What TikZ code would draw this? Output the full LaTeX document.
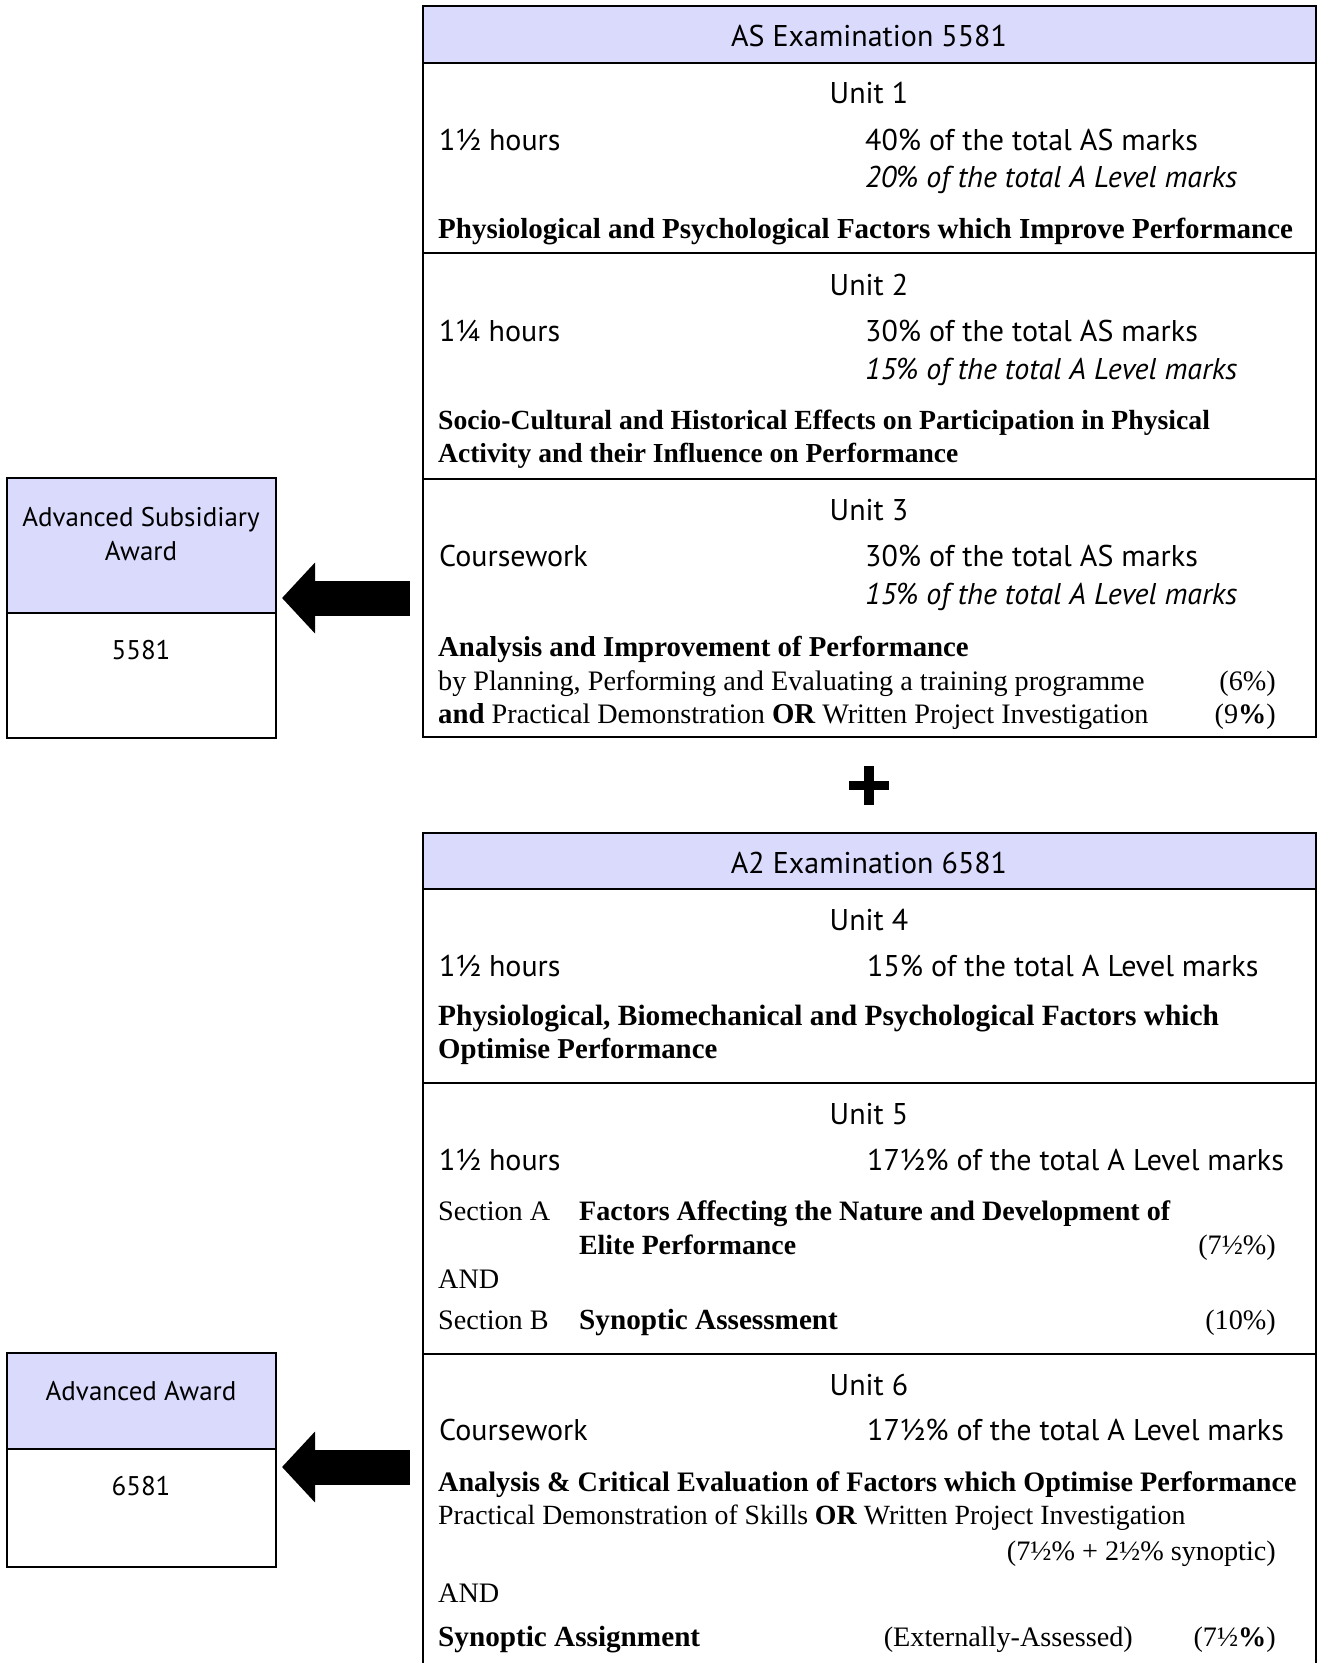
\documentclass[tikz,border=0pt]{standalone}
\usepackage{fontspec}
\setmainfont{Liberation Serif}
\newfontfamily\sansf{PT Sans}
\usetikzlibrary{arrows.meta}
\definecolor{hdrblue}{RGB}{218,218,253}
\newcommand{\sanslg}{\sansf\fontsize{30}{36}\selectfont}
\newcommand{\sanssm}{\sansf\fontsize{27}{33}\selectfont}
\newcommand{\serifn}{\fontsize{28.2}{33}\selectfont}
\newcommand{\bx}[1]{{\fontsize{28.8}{33}\selectfont\bfseries #1}}
\newcommand{\bsz}[2]{{\fontsize{#1}{33}\selectfont\bfseries #2}}
\begin{document}
\begin{tikzpicture}[x=1pt,y=-1pt,
  frame/.style={draw=black, line width=2.2pt},
  divider/.style={draw=black, line width=2.2pt},
  sl/.style={font=\sanslg, inner sep=0pt, anchor=base west},
  sc/.style={font=\sanslg, inner sep=0pt, anchor=base},
  ss/.style={font=\sanssm, inner sep=0pt, anchor=base},
  rl/.style={font=\serifn, inner sep=0pt, anchor=base west},
  rr/.style={font=\serifn, inner sep=0pt, anchor=base east},
  blockarrow/.style={line width=35pt, -{Triangle[width=69pt,length=33pt]}}
]
\useasboundingbox (0,0) rectangle (1323,1663);
\fill[white] (0,0) rectangle (1323,1663);

% ---------- AS box ----------
\fill[hdrblue] (423,6) rectangle (1316,63);
\draw[frame] (423,6) rectangle (1316,737);
\draw[divider] (423,63) -- (1316,63);
\draw[divider] (423,253) -- (1316,253);
\draw[divider] (423,479) -- (1316,479);

\node[sc] (ashdr) at (869,46) {AS Examination 5581};
\node[sc] (u1) at (869,103) {Unit 1};
\node[sl] (u1h) at (439,150) {1½ hours};
\node[sl] (u1a) at (865,150) {40\% of the total AS marks};
\node[sl] (u1b) at (865,187) {\itshape 20\% of the total A Level marks};
\node[rl] (u1t) at (438,238) {\bsz{29}{Physiological and Psychological Factors which Improve Performance}};

\node[sc] (u2) at (869,295) {Unit 2};
\node[sl] (u2h) at (439,341) {1¼ hours};
\node[sl] (u2a) at (865,341) {30\% of the total AS marks};
\node[sl] (u2b) at (865,379) {\itshape 15\% of the total A Level marks};
\node[rl] (u2t) at (438,429) {\bsz{27.7}{Socio-Cultural and Historical Effects on Participation in Physical}};
\node[rl] (u2t2) at (438,462) {\bsz{27.5}{Activity and their Influence on Performance}};

\node[sc] (u3) at (869,520) {Unit 3};
\node[sl] (u3h) at (439,566) {Coursework};
\node[sl] (u3a) at (865,566) {30\% of the total AS marks};
\node[sl] (u3b) at (865,604) {\itshape 15\% of the total A Level marks};
\node[rl] (u3t) at (438,656) {\bx{Analysis and Improvement of Performance}};
\node[rl] (u3l1) at (438,690) {by Planning, Performing and Evaluating a training programme};
\node[rr] (u3p1) at (1276,690) {(6\%)};
\node[rl] (u3l2) at (438,723) {\bx{and} Practical Demonstration \bx{OR} Written Project Investigation};
\node[rr] (u3p2) at (1276,723) {(9\textbf{\%})};

% ---------- plus ----------
\fill[black] (864,766) rectangle (874,805);
\fill[black] (849,781) rectangle (889,790);

% ---------- A2 box (open at the bottom edge) ----------
\fill[hdrblue] (423,833) rectangle (1316,889);
\draw[frame] (423,1670) -- (423,833) -- (1316,833) -- (1316,1670);
\draw[divider] (423,889) -- (1316,889);
\draw[divider] (423,1083) -- (1316,1083);
\draw[divider] (423,1354) -- (1316,1354);

\node[sc] (a2hdr) at (869,873) {A2 Examination 6581};
\node[sc] (u4) at (869,930) {Unit 4};
\node[sl] (u4h) at (439,976) {1½ hours};
\node[sl] (u4a) at (867,976) {15\% of the total A Level marks};
\node[rl] (u4t) at (438,1025) {\bsz{29.4}{Physiological, Biomechanical and Psychological Factors which}};
\node[rl] (u4t2) at (438,1058) {\bx{Optimise Performance}};

\node[sc] (u5) at (869,1124) {Unit 5};
\node[sl] (u5h) at (439,1170) {1½ hours};
\node[sl] (u5a) at (867,1170) {17½\% of the total A Level marks};
\node[rl] (u5sa) at (438,1220) {Section A};
\node[rl] (u5sat) at (579,1220) {\bsz{28.1}{Factors Affecting the Nature and Development of}};
\node[rl] (u5sat2) at (579,1254) {\bsz{27.8}{Elite Performance}};
\node[rr] (u5pa) at (1276,1254) {(7½\%)};
\node[rl] (u5and) at (438,1288) {AND};
\node[rl] (u5sb) at (438,1329) {Section B};
\node[rl] (u5sbt) at (579,1329) {\bsz{29.2}{Synoptic Assessment}};
\node[rr] (u5pb) at (1276,1329) {(10\%)};

\node[sc] (u6) at (869,1395) {Unit 6};
\node[sl] (u6h) at (439,1440) {Coursework};
\node[sl] (u6a) at (867,1440) {17½\% of the total A Level marks};
\node[rl] (u6t) at (438,1491) {\bsz{28.2}{Analysis \& Critical Evaluation of Factors which Optimise Performance}};
\node[rl] (u6l1) at (438,1524) {{\fontsize{27.8}{33}\selectfont Practical Demonstration of Skills \textbf{OR} Written Project Investigation}};
\node[rr] (u6p1) at (1276,1560) {(7½\% + 2½\% synoptic)};
\node[rl] (u6and) at (438,1602) {AND};
\node[rl] (u6sa) at (438,1646) {\bsz{29.2}{Synoptic Assignment}};
\node[rr] (u6ext) at (1133,1646) {(Externally-Assessed)};
\node[rr] (u6p2) at (1276,1646) {(7½\textbf{\%})};

% ---------- left award boxes ----------
\fill[hdrblue] (7,478) rectangle (276,613);
\draw[frame] (7,478) rectangle (276,738);
\draw[divider] (7,613) -- (276,613);
\node[ss] (asaw1) at (141,526) {Advanced Subsidiary};
\node[ss] (asaw2) at (141,560) {Award};
\node[ss] (ascode) at (141,659) {5581};

\fill[hdrblue] (7,1353) rectangle (276,1449);
\draw[frame] (7,1353) rectangle (276,1567);
\draw[divider] (7,1449) -- (276,1449);
\node[ss] (aaw) at (141,1400) {Advanced Award};
\node[ss] (aacode) at (141,1495) {6581};

% ---------- arrows ----------
\coordinate (t1) at (410,598);
\coordinate (h1) at (282,598);
\coordinate (t2) at (410,1467);
\coordinate (h2) at (282,1467);
\draw[blockarrow] (t1) -- (h1);
\draw[blockarrow] (t2) -- (h2);
\end{tikzpicture}
\end{document}
